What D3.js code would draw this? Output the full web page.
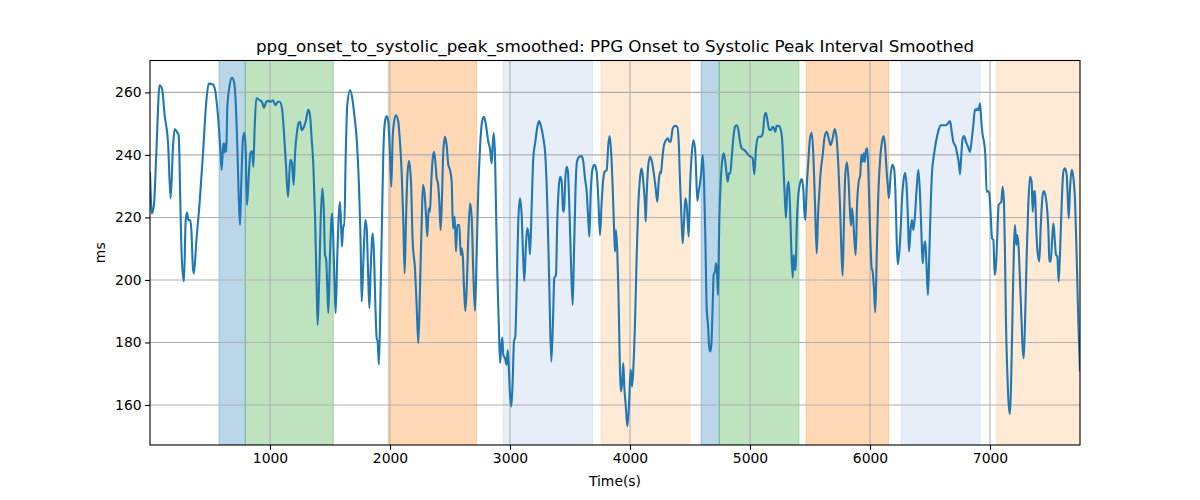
<!DOCTYPE html>
<html><head><meta charset="utf-8">
<script src="https://cdn.jsdelivr.net/npm/d3@7"></script>
<style>body{margin:0;background:#fff;font-family:"DejaVu Sans",sans-serif}</style>
</head><body><svg id="c" width="1200" height="500"></svg>
<script>
const title = "ppg_onset_to_systolic_peak_smoothed: PPG Onset to Systolic Peak Interval Smoothed";
const xLabel = "Time(s)";
const yLabel = "ms";
const xTicks = [1000,2000,3000,4000,5000,6000,7000];
const yTicks = [160,180,200,220,240,260];
const xDomain = [0, 7750];
const yDomain = [147.2, 270.2];

const spanStart = [575, 794, 1986, 2944, 3758, 4592, 4744, 5467, 6258, 7056];
const spanEnd   = [794, 1528, 2722, 3689, 4500, 4744, 5408, 6156, 6917, 7760];
const spanColor = ["#1f77b4","#2ca02c","#ff7f0e","#aec7e8","#ffbb78","#1f77b4","#2ca02c","#ff7f0e","#aec7e8","#ffbb78"];

const time = [0,16,33,52,80,100,122,150,172,191,205,227,239,255,266,283,297,308,319,333,344,358,366,386,414,441,469,489,525,539,566,580,589,597,611,619,627,636,644,664,683,700,714,728,739,750,761,775,786,797,808,822,836,850,861,872,886,914,933,950,969,989,1005,1025,1044,1066,1080,1100,1116,1133,1150,1169,1183,1197,1208,1225,1241,
1250,1264,1283,1300,1319,1333,1347,1361,1375,1389,1397,1408,1422,1436,1450,1458,1467,1478,1486,1500,1517,1528,1539,1547,1561,1575,1583,1594,1600,1611,1619,1631,1644,1667,1686,1703,1722,1742,1756,1764,1778,1794,1806,1817,1828,1839,1856,1867,1878,1889,1897,1908,1922,1933,1944,1958,1972,1986,2000,2011,2022,2036,2050,2069,2083,2097,2111,2122,2133,2144,2158,2175,2189,2208,2222,2236,2250,2264,2275,2289,2300,2311,2322,2333,2344,2356,2367,2378,2389,2400,2411,2422,2433,2444,2458,2472,2486,
2500,2514,2525,2539,2550,2561,2578,2589,2597,2606,2617,2628,2639,2653,2667,2681,2694,2708,2722,2736,2750,2767,2783,2800,2819,2833,2847,2856,2864,2875,2883,2894,2906,2917,2928,2936,2944,2958,2972,2981,2989,3000,3011,3022,3033,3044,3056,3069,3083,3097,3111,3119,3133,3144,3156,3167,3181,3194,3211,3228,3242,3256,3278,3294,3311,3328,3344,3358,3369,3383,3394,3408,3419,3431,3442,3450,3461,3472,3483,3494,3508,3522,3533,3547,3558,3578,3597,3611,3625,3639,3650,3661,3672,3689,3706,3722,3736,
3750,3764,3778,3789,3806,3819,3831,3844,3856,3867,3875,3883,3894,3903,3911,3922,3933,3944,3953,3964,3978,3992,4006,4017,4028,4042,4056,4069,4083,4097,4111,4125,4131,4139,4153,4167,4183,4200,4214,4228,4239,4250,4258,4267,4283,4300,4317,4328,4339,4356,4375,4394,4406,4417,4428,4439,4450,4461,4472,4481,4489,4500,4514,4528,4542,4550,4561,4572,4583,4594,4606,4617,4628,4639,4650,4661,4669,4678,4689,4697,4708,4717,4725,4733,4744,4756,4767,4781,4794,4806,4814,4825,4836,4847,4861,4875,4889,4903,4917,4931,4950,4967,4986,
5006,5022,5036,5050,5069,5089,5106,5122,5133,5147,5161,5175,5189,5200,5211,5222,5239,5256,5267,5278,5289,5300,5311,5322,5333,5344,5356,5364,5372,5381,5389,5403,5417,5431,5444,5453,5461,5472,5486,5500,5514,5528,5542,5556,5567,5578,5589,5606,5622,5639,5656,5672,5689,5706,5722,5736,5750,5761,5772,5783,5794,5808,5822,5833,5842,5850,5861,5869,5881,5892,5906,5919,5928,5939,5947,5956,5967,5978,5989,6000,6014,6022,6033,6044,6056,6069,6083,6100,6114,6125,6139,6150,6158,6172,6186,6200,6211,6222,6231,6242,6256,6267,6278,6292,6306,6317,6325,
6339,6350,6361,6372,6389,6403,6417,6428,6439,6450,6461,6472,6483,6494,6506,6517,6533,6550,6569,6589,6611,6633,6650,6667,6681,6694,6714,6728,6739,6750,6761,6772,6783,6800,6817,6833,6847,6861,6875,6886,6897,6906,6917,6928,6939,6950,6961,6972,6983,6994,7006,7017,7028,7039,7050,7061,7072,7083,7094,7106,7117,7125,7133,7144,7156,7167,7178,7189,7200,7208,7219,7228,7239,7250,7261,7272,7281,7292,7306,7319,7333,7347,7356,7367,7375,7383,7394,7411,7422,7439,7450,7464,7478,7489,7494,7506,7517,7528,7539,7550,7561,7572,7583,7597,7611,7625,7639,7647,7656,7667,7681,7694,7708,7722,7736,7750];

const interval = [234.6,221.3,224.0,240.0,262.3,261.3,252.7,244.2,226.1,242.1,248.3,247.2,246.3,220.8,205.9,199.5,218.7,221.6,219.2,219.2,216.5,203.7,202.1,212.3,225.0,240.0,257.0,262.8,262.5,261.3,252.7,245.3,240.0,235.2,243.7,240.7,243.7,241.0,254.9,262.3,264.7,263.4,257.0,242.1,227.2,217.6,231.4,245.3,247.1,242.1,224.0,232.5,240.5,241.2,236.2,248.5,258.1,257.5,257.0,255.1,257.0,257.3,257.0,257.5,255.9,257.0,257.0,254.9,247.4,236.8,226.6,238.4,237.3,230.4,240.0,247.4,250.4,
250.6,247.9,249.0,251.1,254.5,252.7,245.3,236.8,220.8,197.3,185.6,197.3,218.7,229.3,220.8,208.0,206.9,197.3,189.4,208.0,221.3,212.3,197.3,189.4,208.0,221.8,225.0,215.5,210.7,217.6,217.1,240.0,255.9,260.7,258.1,252.7,245.3,229.3,210.1,193.1,205.9,219.2,216.5,202.7,191.0,203.7,214.9,208.0,192.0,181.4,180.3,172.9,197.3,218.7,240.0,250.6,252.4,250.6,240.0,229.8,245.3,251.1,252.7,250.6,244.2,234.6,218.7,202.1,218.7,232.5,238.0,231.4,212.3,203.7,192.0,179.8,197.3,218.7,230.4,227.2,220.8,213.9,222.9,221.8,231.4,238.9,241.0,237.8,232.5,230.9,225.0,216.0,226.1,241.0,245.8,243.1,236.8,
235.2,231.4,216.5,220.3,209.1,217.6,217.6,208.0,210.1,208.0,197.3,190.1,197.3,214.4,224.5,219.7,202.7,190.1,208.0,229.3,242.1,250.6,252.2,249.5,244.2,242.1,237.3,243.1,246.9,240.0,224.0,202.7,186.7,173.4,179.3,181.6,176.1,175.0,172.9,177.6,172.9,163.3,159.5,167.5,180.3,181.9,197.3,218.7,226.1,220.8,205.9,199.7,211.2,216.5,214.4,208.2,224.0,238.9,244.2,249.0,250.8,249.5,245.3,240.0,224.0,197.3,173.9,186.7,200.6,201.6,218.7,230.4,233.0,231.4,222.4,221.8,232.5,236.2,234.6,224.0,205.9,192.0,208.0,230.4,237.8,239.4,239.6,237.8,232.5,228.2,220.8,213.9,227.2,235.7,236.8,234.6,226.1,
214.4,225.0,232.5,234.6,235.2,243.1,246.0,240.0,229.3,216.5,209.1,216.0,209.1,197.3,181.4,164.3,166.5,173.4,165.4,160.1,153.2,160.1,171.3,165.9,171.8,186.7,208.0,224.0,232.5,235.7,231.4,224.0,218.7,227.2,236.8,239.4,237.8,233.6,229.3,225.0,231.4,234.6,234.1,237.8,243.1,244.7,245.3,244.2,244.2,248.5,249.3,249.0,244.2,231.4,220.8,211.7,218.7,226.1,224.0,218.7,213.9,229.3,240.0,244.7,242.1,235.7,225.3,228.2,230.9,234.6,240.0,231.4,213.3,191.0,185.6,178.2,177.1,179.3,192.0,201.6,202.7,205.3,202.7,195.2,218.7,231.4,237.8,240.5,237.8,233.6,231.4,234.1,234.1,238.9,245.3,249.0,249.5,248.0,244.2,242.1,241.6,241.0,240.0,
239.4,238.9,233.8,242.1,245.8,245.8,246.9,252.7,253.5,250.6,248.0,248.0,249.0,248.5,247.4,249.3,249.3,248.0,245.3,236.8,227.2,219.9,229.3,231.4,224.0,210.1,200.8,208.0,203.7,203.2,216.5,227.2,230.9,232.3,229.3,221.8,219.2,229.3,237.8,245.3,247.1,240.0,224.0,208.5,220.8,228.2,234.6,240.0,245.8,247.4,245.3,243.1,245.3,248.3,245.3,236.8,224.0,210.1,201.4,218.7,233.6,237.6,231.4,221.8,217.4,222.9,218.7,213.3,208.0,224.0,231.4,233.6,240.0,237.8,240.5,237.8,241.6,242.1,231.4,216.5,203.7,202.7,197.3,189.6,208.0,227.2,237.8,244.2,246.0,243.1,234.6,229.3,226.1,233.6,236.8,235.7,229.3,213.3,205.0,208.0,216.5,226.1,231.4,234.3,229.3,218.7,209.1,
216.5,219.2,216.0,219.2,229.3,235.2,227.2,215.5,205.3,210.7,212.3,203.7,195.2,208.0,224.0,234.6,240.0,244.2,247.6,249.5,249.5,249.5,250.1,250.8,247.4,244.2,242.6,240.0,237.8,233.8,240.0,245.3,246.0,244.2,242.6,241.0,244.7,249.5,254.6,254.3,254.9,254.3,256.5,250.6,246.3,244.2,240.0,228.2,228.4,227.7,220.8,213.3,212.8,201.6,204.8,214.4,224.0,224.5,225.0,229.8,224.0,208.0,186.7,170.7,160.1,157.1,170.7,192.0,211.2,217.6,211.2,214.4,210.1,199.5,188.8,178.2,175.0,186.7,208.0,224.0,233.0,231.4,221.8,228.2,228.4,218.7,210.1,205.9,216.5,227.2,228.4,226.6,221.8,213.3,205.9,205.9,212.3,218.1,213.3,208.0,207.5,199.5,208.0,224.0,234.6,235.7,233.6,227.2,219.7,229.3,235.2,233.0,226.1,208.0,186.7,170.7];

const data = time.map((t, i) => ({t, v: interval[i]}));
const spans = spanStart.map((s, i) => ({s, e: spanEnd[i], c: spanColor[i]}));

const L = 150, R = 1080, T = 60.5, B = 445;
const svg = d3.select("#c");
const x = d3.scaleLinear().domain(xDomain).range([L, R]);
const y = d3.scaleLinear().domain(yDomain).range([B, T]);

svg.append("defs").append("clipPath").attr("id","clip")
  .append("rect").attr("x",L).attr("y",T).attr("width",R-L).attr("height",B-T);

const g = svg.append("g").attr("clip-path","url(#clip)");
g.selectAll("rect.span").data(spans).join("rect")
  .attr("x", d => x(d.s)).attr("width", d => x(d.e) - x(d.s))
  .attr("y", T).attr("height", B - T)
  .attr("fill", d => d.c).attr("fill-opacity", 0.3)
  .attr("stroke", d => d.c).attr("stroke-opacity", 0.3).attr("stroke-width", 1);

// grid
g.selectAll("line.gx").data(xTicks).join("line")
  .attr("x1", d => x(d)).attr("x2", d => x(d)).attr("y1", T).attr("y2", B)
  .attr("stroke", "#b0b0b0").attr("stroke-width", 1.1);
g.selectAll("line.gy").data(yTicks).join("line")
  .attr("y1", d => y(d)).attr("y2", d => y(d)).attr("x1", L).attr("x2", R)
  .attr("stroke", "#b0b0b0").attr("stroke-width", 1.1);

const line = d3.line().x(d => x(d.t)).y(d => y(d.v)).curve(d3.curveMonotoneX);
g.append("path").datum(data).attr("d", line)
  .attr("fill","none").attr("stroke","#1f77b4").attr("stroke-width",2.1)
  .attr("stroke-linejoin","round").attr("stroke-linecap","butt");

// axes
const xAxis = d3.axisBottom(x).tickValues(xTicks).tickSize(4.9).tickPadding(3.5).tickFormat(d3.format("d"));
const yAxis = d3.axisLeft(y).tickValues(yTicks).tickSize(4.9).tickPadding(3.5).tickFormat(d3.format("d"));
const gx = svg.append("g").attr("transform", `translate(0,${B})`).call(xAxis);
const gy = svg.append("g").attr("transform", `translate(${L},0)`).call(yAxis);
[gx, gy].forEach(a => {
  a.select(".domain").remove();
  a.selectAll("line").attr("stroke","#000").attr("stroke-width",1.1);
  a.selectAll("text").attr("font-family","DejaVu Sans").attr("font-size","13.9px").attr("fill","#000");
});

svg.append("rect").attr("x",L).attr("y",T).attr("width",R-L).attr("height",B-T)
  .attr("fill","none").attr("stroke","#000").attr("stroke-width",1.1);

svg.append("text").attr("x",(L+R)/2).attr("y",52).attr("text-anchor","middle")
  .attr("font-family","DejaVu Sans").attr("font-size","16.7px").text(title);
svg.append("text").attr("x",(L+R)/2).attr("y",486).attr("text-anchor","middle")
  .attr("font-family","DejaVu Sans").attr("font-size","13.9px").text(xLabel);
svg.append("text").attr("transform",`translate(105,${(T+B)/2}) rotate(-90)`).attr("text-anchor","middle")
  .attr("font-family","DejaVu Sans").attr("font-size","13.9px").text(yLabel);
</script></body></html>
